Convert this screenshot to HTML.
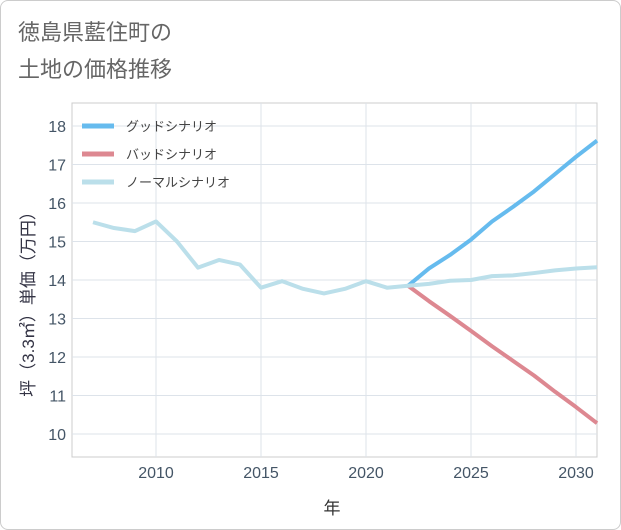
<!DOCTYPE html>
<html><head><meta charset="utf-8">
<style>
html,body{margin:0;padding:0;background:#fff;}
body{width:621px;height:530px;overflow:hidden;font-family:"Liberation Sans","Noto Sans CJK JP",sans-serif;}
.frame{position:absolute;left:0;top:0;width:619px;height:528px;border:1px solid #ccc;border-radius:8px;}
</style></head>
<body>
<div class="frame"></div>
<svg id="chart" width="621" height="530" style="position:absolute;left:0;top:0">
<text x="18" y="40" font-size="22" fill="#666">徳島県藍住町の</text>
<text x="18" y="77" font-size="22" fill="#666">土地の価格推移</text>
<rect x="72" y="103" width="525" height="354" fill="none" stroke="#ccc"/>
<g id="grid"></g><g id="series"></g><g id="legend"></g>
<text x="332" y="514" font-size="17" fill="#333" text-anchor="middle">年</text>
<text transform="translate(34,300) rotate(-90)" font-size="17" fill="#334" text-anchor="middle">坪（3.3㎡）単価（万円）</text>
</svg>
<script>
const years=[2007,2008,2009,2010,2011,2012,2013,2014,2015,2016,2017,2018,2019,2020,2021,2022,2023,2024,2025,2026,2027,2028,2029,2030,2031];
const normalValues=[15.5,15.35,15.27,15.52,15.0,14.32,14.52,14.4,13.8,13.97,13.77,13.65,13.77,13.97,13.8,13.85,13.9,13.98,14.0,14.1,14.12,14.18,14.25,14.3,14.33];
const futureYears=[2022,2023,2024,2025,2026,2027,2028,2029,2030,2031];
const goodValues=[13.85,14.3,14.65,15.05,15.52,15.9,16.3,16.75,17.2,17.62];
const badValues=[13.85,13.45,13.07,12.68,12.28,11.9,11.52,11.1,10.7,10.28];
const xTicks=[2010,2015,2020,2025,2030];
const yTicks=[10,11,12,13,14,15,16,17,18];
const legendLabels=["グッドシナリオ","バッドシナリオ","ノーマルシナリオ"];
const NS="http://www.w3.org/2000/svg";
const X=v=>156+(v-2010)*21;
const Y=v=>434-(v-10)*38.5;
function mk(t,a,p){const e=document.createElementNS(NS,t);for(const k in a)e.setAttribute(k,a[k]);p.appendChild(e);return e;}
const g=document.getElementById('grid');
xTicks.forEach(t=>{
 const l=mk('line',{x1:X(t),x2:X(t),y1:103,y2:457,stroke:'#dde3ea'},g);
 
 
 const tx=mk('text',{x:X(t),y:478,'font-size':16,fill:'#456','text-anchor':'middle'},g);tx.textContent=t;
 
 
});
yTicks.forEach(t=>{
 const l=mk('line',{x1:72,x2:597,y1:Y(t),y2:Y(t),stroke:'#dde3ea'},g);
 
 
 const tx=mk('text',{x:66,y:Y(t)+6,'font-size':16,fill:'#456','text-anchor':'end'},g);tx.textContent=t;
 
 
});
const s=document.getElementById('series');
function line(xs,vs,color,name){
 const p=mk('polyline',{points:xs.map((x,i)=>X(x)+','+Y(vs[i])).join(' '),fill:'none',stroke:color,'stroke-width':4,'stroke-linejoin':'round'},s);
 
 
}
line(futureYears,badValues,'#dd8891','bad-scenario-line');
line(futureYears,goodValues,'#66bbee','good-scenario-line');
line(years,normalValues,'#bbdfea','normal-scenario-line');
const lg=document.getElementById('legend');
const colors=['#66bbee','#dd8891','#bbdfea'];
legendLabels.forEach((lab,i)=>{
 const y=126+i*28;
 const l=mk('line',{x1:82,x2:114,y1:y,y2:y,stroke:colors[i],'stroke-width':5},lg);
 
 
 const t=mk('text',{x:126,y:y+5,'font-size':13,fill:'#444'},lg);t.textContent=lab;
 
 
});
</script>
</body></html>
